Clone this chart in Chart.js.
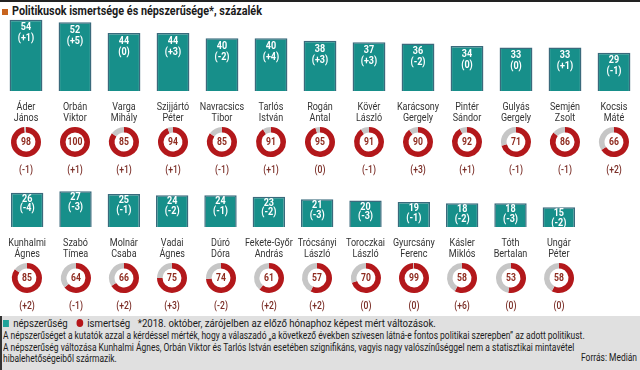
<!DOCTYPE html>
<html><head><meta charset="utf-8">
<script src="https://cdn.jsdelivr.net/npm/chart.js@4.4.0/dist/chart.umd.min.js"></script>
<style>
html,body{margin:0;padding:0;background:#fff;}
#wrap{position:relative;width:640px;height:370px;overflow:hidden;background:#fff;font-family:Roboto,'Liberation Sans',sans-serif;}
#topline{position:absolute;left:0;top:0;width:640px;height:2px;background:#222;}
#title{position:absolute;left:12px;top:3px;font-size:12.5px;font-weight:bold;color:#1a1a1a;white-space:nowrap;transform-origin:0 0;}
#tsq{position:absolute;left:2px;top:9px;width:6px;height:6px;background:#c8641e;}
canvas.abs{position:absolute;}
#footer{position:absolute;left:0;top:316px;width:640px;height:54px;background:#e0e0e0;border-left:2px solid #333;box-sizing:border-box;color:#1a1a1a;font-size:10px;}
#footer div{position:absolute;white-space:nowrap;line-height:11px;transform-origin:0 0;}
#legend{font-size:11.4px;}
.sq{display:inline-block;width:7px;height:7px;background:#1fa39a;margin-right:5px;vertical-align:0px;}
.dot{display:inline-block;width:8px;height:8px;border-radius:50%;background:#b5161a;margin-left:10px;margin-right:5px;vertical-align:-0.5px;}
.ast{margin-left:9px;}
</style></head>
<body>
<div id="wrap">
  <div id="topline"></div>
  <div id="tsq"></div>
  <div id="title">Politikusok ismertsége és népszerűsége*, százalék</div>
  <canvas id="bars1" class="abs" width="640" height="125" style="left:0;top:0;"></canvas>
  <canvas id="bars2" class="abs" width="640" height="125" style="left:0;top:136px;"></canvas>
  <div id="donuts"></div>
  <div id="footer">
    <div class="fl" id="legend" style="left:1px;top:1.5px;"><span class="sq"></span>népszerűség<span class="dot"></span>ismertség<span class="ast">*2018. október, zárójelben az előző hónaphoz képest mért változások.</span></div>
    <div class="fl" id="fref" style="left:1px;top:14px;">A népszerűséget a kutatók azzal a kérdéssel mérték, hogy a válaszadó „a következő években szívesen látná-e fontos politikai szerepben” az adott politikust.</div>
    <div class="fl" style="left:1px;top:25.5px;">A népszerűség változása Kunhalmi Ágnes, Orbán Viktor és Tarlós István esetében szignifikáns, vagyis nagy valószínűséggel nem a statisztikai mintavétel</div>
    <div class="fl" style="left:1px;top:37px;">hibalehetőségeiből származik.</div>
    <div class="fl" id="forras" style="left:583px;top:36px;">Forrás: Medián</div>
  </div>
</div>
<script>
const names1 = [["Áder","János"],["Orbán","Viktor"],["Varga","Mihály"],["Szijjártó","Péter"],["Navracsics","Tibor"],["Tarlós","István"],["Rogán","Antal"],["Kövér","László"],["Karácsony","Gergely"],["Pintér","Sándor"],["Gulyás","Gergely"],["Semjén","Zsolt"],["Kocsis","Máté"]];
const popularity1 = [54,52,44,44,40,40,38,37,36,34,33,33,29];
const popularityChange1 = [1,5,0,3,-2,4,3,3,-2,0,0,1,-1];
const awareness1 = [98,100,85,94,85,91,95,91,90,92,71,86,66];
const awarenessChange1 = [-1,1,1,1,-1,1,0,-1,3,1,-1,-1,2];

const names2 = [["Kunhalmi","Ágnes"],["Szabó","Tímea"],["Molnár","Csaba"],["Vadai","Ágnes"],["Dúró","Dóra"],["Fekete-Győr","András"],["Trócsányi","László"],["Toroczkai","László"],["Gyurcsány","Ferenc"],["Kásler","Miklós"],["Tóth","Bertalan"],["Ungár","Péter"]];
const popularity2 = [26,27,25,24,24,23,21,20,19,18,18,15];
const popularityChange2 = [-4,-3,-1,-2,-1,-2,-3,-3,-1,-2,-3,-2];
const awareness2 = [85,64,66,75,74,61,57,70,99,58,53,58];
const awarenessChange2 = [2,-1,2,3,-2,2,2,0,0,6,0,0];

const FONT = "Roboto,'Liberation Sans',sans-serif";
const SX = 0.82;
const TEAL = '#178f8a', TEAL_BORDER = '#3a6a7c', RED = '#b3181b', GREY = '#c6c6c6';
function fmt(n){ return '(' + (n>0?'+':'') + n + ')'; }
function narrowText(ctx, txt, x, y){
  ctx.save(); ctx.translate(x, y); ctx.scale(SX, 1); ctx.fillText(txt, 0, 0); ctx.restore();
}

const barLabels = {
  id:'barLabels',
  afterDatasetsDraw(chart, args, opts){
    const ctx = chart.ctx, meta = chart.getDatasetMeta(0), data = chart.data.datasets[0].data;
    const bottom = chart.chartArea.bottom;
    ctx.save();
    ctx.textAlign = 'center'; ctx.textBaseline = 'middle';
    meta.data.forEach((bar,i)=>{
      ctx.fillStyle = '#fff'; ctx.font = 'bold 11px ' + FONT;
      narrowText(ctx, String(data[i]), bar.x, bar.y + opts.o1);
      narrowText(ctx, fmt(opts.changes[i]), bar.x, bar.y + opts.o2);
      ctx.fillStyle = '#333'; ctx.font = '11px ' + FONT;
      const nm = chart.data.labels[i];
      narrowText(ctx, nm[0], bar.x, bottom + 16);
      narrowText(ctx, nm[1], bar.x, bottom + 27);
    });
    ctx.restore();
  }
};

function makeBars(id, names, pop, chg, padL, padR, o1, o2){
  return new Chart(document.getElementById(id), {
    type:'bar',
    data:{labels:names, datasets:[{data:pop, backgroundColor:TEAL, borderColor:TEAL_BORDER, borderWidth:1.5, barPercentage:0.67, categoryPercentage:1}]},
    options:{
      responsive:false, animation:false, devicePixelRatio:1,
      layout:{padding:{left:padL, right:padR, top:11.8, bottom:34}},
      plugins:{legend:{display:false}, tooltip:{enabled:false}, barLabels:{changes:chg, o1:o1, o2:o2}},
      scales:{
        y:{display:false, min:0, max:60},
        x:{display:false}
      }
    },
    plugins:[barLabels]
  });
}

const donutText = {
  id:'donutText',
  afterDraw(chart, args, opts){
    const ctx = chart.ctx, a = chart.chartArea;
    const cx = (a.left + a.right)/2, cy = (a.top + a.bottom)/2;
    ctx.save(); ctx.textAlign = 'center'; ctx.textBaseline = 'middle';
    ctx.fillStyle = '#8e2a1e'; ctx.font = 'bold 10.5px ' + FONT;
    narrowText(ctx, String(chart.data.datasets[0].data[0]), cx, cy + 0.5);
    ctx.fillStyle = '#7a2d26'; ctx.font = '500 10.5px ' + FONT;
    narrowText(ctx, fmt(opts.change), cx, cy + 28);
    ctx.restore();
  }
};

function makeDonuts(barChart, topOffset, vals, chg){
  const host = document.getElementById('donuts');
  vals.forEach((v,i)=>{
    const x = barChart.scales.x.getPixelForValue(i);
    const c = document.createElement('canvas');
    c.width = 48; c.height = 66; c.className = 'abs';
    c.style.left = (x - 24) + 'px'; c.style.top = (topOffset + 127) + 'px';
    host.appendChild(c);
    new Chart(c, {
      type:'doughnut',
      data:{labels:['ismertség',''], datasets:[{data:[v, 100 - v], backgroundColor:[RED, GREY], borderWidth:0}]},
      options:{responsive:false, animation:false, devicePixelRatio:1, cutout:'63%',
        layout:{padding:{top:0, bottom:36, left:0, right:0}},
        plugins:{legend:{display:false}, tooltip:{enabled:false}, donutText:{change:chg[i]}}},
      plugins:[donutText]
    });
  });
}

const c1 = makeBars('bars1', names1, popularity1, popularityChange1, 1.5, 1.5, 8, 19);
const c2 = makeBars('bars2', names2, popularity2, popularityChange2, 3, 57, 6.2, 16);
makeDonuts(c1, 0, awareness1, awarenessChange1);
makeDonuts(c2, 136, awareness2, awarenessChange2);

function fitText(){
  const t = document.getElementById('title');
  t.style.transform = 'scaleX(' + (250 / t.offsetWidth) + ')';
  const ref = document.getElementById('fref');
  const s = 582 / ref.offsetWidth;
  document.querySelectorAll('#footer .fl').forEach(el=>{ el.style.transform = 'scaleX(' + s + ')'; });
  const f = document.getElementById('forras');
  f.style.left = (637 - 2 - f.offsetWidth * s) + 'px';
}
fitText();
</script>
</body></html>
